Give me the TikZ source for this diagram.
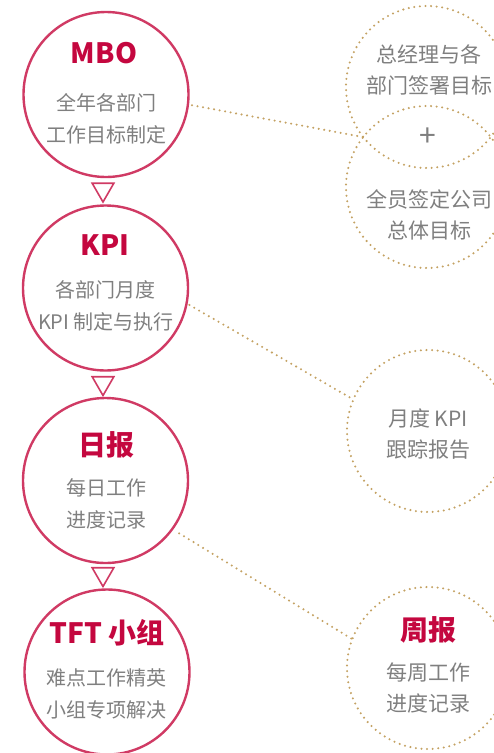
\documentclass[tikz,border=0pt]{standalone}
\usepackage{fontspec}
\setmainfont{Noto Sans CJK SC}
\usetikzlibrary{shapes.geometric}
\definecolor{crim}{HTML}{D03A64}
\definecolor{ttlred}{HTML}{C4073F}
\definecolor{txt}{HTML}{7F7F7F}
\definecolor{tan}{HTML}{C4A263}
\begin{document}
\begin{tikzpicture}[x=1pt,y=-1pt,
  stage/.style={circle,draw=crim,line width=2.4pt,minimum size=165pt,inner sep=0pt},
  goal/.style={circle,draw=tan,line width=2.3pt,dash pattern=on 0pt off 5.6pt,line cap=round,minimum size=162pt,inner sep=0pt},
  ttl/.style={text=ttlred,font=\bfseries\fontsize{28}{28}\selectfont,inner sep=0pt},
  body/.style={text=txt,font=\fontsize{20}{32}\selectfont,align=center,inner sep=0pt},
  rbody/.style={text=txt,font=\fontsize{21}{31}\selectfont,align=center,inner sep=0pt},
  link/.style={draw=tan,line width=2.3pt,dash pattern=on 0pt off 5.6pt,line cap=round},
  downtri/.style={regular polygon,regular polygon sides=3,shape border rotate=180,draw=crim,line width=1.6pt,minimum size=25pt,inner sep=0pt}]
\useasboundingbox (0,0) rectangle (494,753);
\clip (0,0) rectangle (494,753);

% left stage circles
\node[stage] (mbo) at (106,94.5) {};
\node[stage] (kpi) at (105.5,288) {};
\node[stage] (rb) at (105.5,480.5) {};
\node[stage] (tft) at (107,672) {};

% triangles
\node[downtri] (t1) at (103,189.5) {};
\node[downtri] (t2) at (103,383) {};
\node[downtri] (t3) at (103,574) {};

% left texts
\node[ttl] (mbot) at (104,53) {MBO};
\node[body] (mbob) at (106,119) {全年各部门\\工作目标制定};
\node[ttl] (kpit) at (105,245) {KPI};
\node[body] (kpib) at (106,306) {各部门月度\\KPI 制定与执行};
\node[ttl] (rbt) at (106,445) {日报};
\node[body] (rbb) at (106,504) {每日工作\\进度记录};
\node[ttl] (tftt) at (107,633) {TFT 小组};
\node[body] (tftb) at (106.5,694) {难点工作精英\\小组专项解决};

% right goal circles
\node[goal] (ga) at (427,87) {};
\node[goal] (gb) at (427,187) {};
\node[goal] (gc) at (428,431) {};
\node[goal] (gd) at (428,668) {};
\coordinate (lens) at (363,137);

% right texts
\node[rbody] (gat) at (429,70) {总经理与各\\部门签署目标};
\node[text=txt,font=\fontsize{30}{30}\selectfont,inner sep=0pt] (plus) at (428,137) {+};
\node[rbody] (gbt) at (429,215) {全员签定公司\\总体目标};
\node[rbody] (gct) at (428,434) {月度 KPI\\跟踪报告};
\node[ttl] (gdt) at (428,630) {周报};
\node[rbody] (gdb) at (428,687.5) {每周工作\\进度记录};

% links
\draw[link,shorten <=3pt] (mbo.-7) -- (lens);
\draw[link,shorten <=2pt] (kpi.-11) -- (gc.157);
\draw[link,shorten <=7pt] (rb.-36) -- (gd.159);
\end{tikzpicture}
\end{document}
